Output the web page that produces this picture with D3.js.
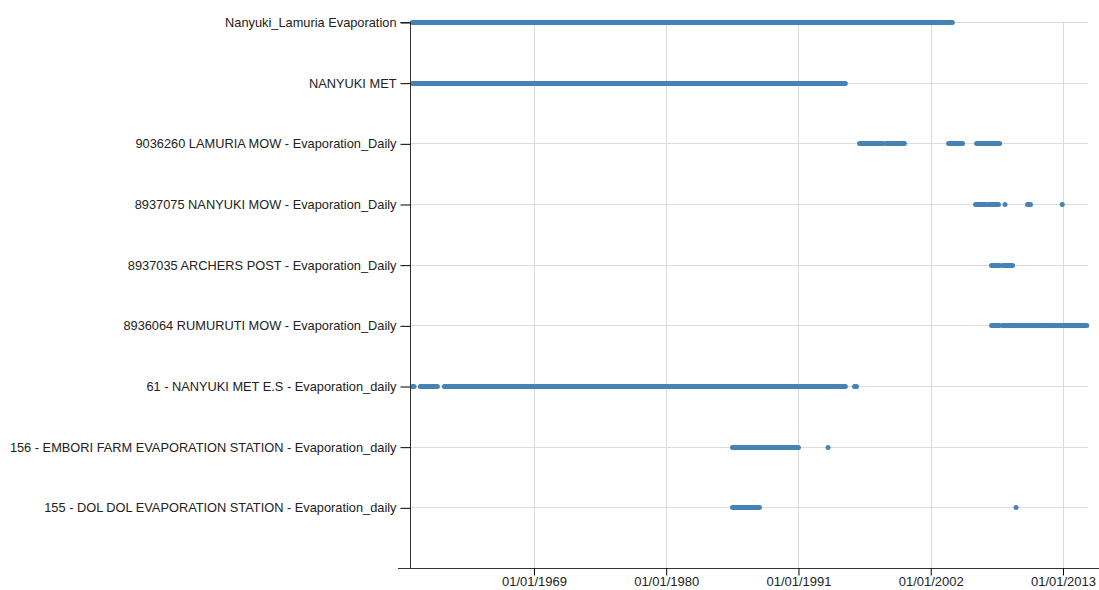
<!DOCTYPE html>
<html>
<head>
<meta charset="utf-8">
<script src="https://cdn.jsdelivr.net/npm/d3@7"></script>
<style>
  html, body { margin: 0; padding: 0; background: #fff; }
  svg { display: block; font-family: "Liberation Sans", Arial, sans-serif; }
</style>
</head>
<body>
<svg id="chart" width="1099" height="590"></svg>
<script>
// Evaporation stations, top to bottom
const stations = [
  "Nanyuki_Lamuria Evaporation",
  "NANYUKI MET",
  "9036260 LAMURIA MOW - Evaporation_Daily",
  "8937075 NANYUKI MOW - Evaporation_Daily",
  "8937035 ARCHERS POST - Evaporation_Daily",
  "8936064 RUMURUTI MOW - Evaporation_Daily",
  "61 - NANYUKI MET E.S - Evaporation_daily",
  "156 - EMBORI FARM EVAPORATION STATION - Evaporation_daily",
  "155 - DOL DOL EVAPORATION STATION - Evaporation_daily"
];

// Periods with records for each station, [first day, last day]
const periods = [
  [["1958-11-20", "2003-10-20"]],
  [["1958-11-20", "1994-11-25"]],
  [["1996-01-30", "1998-01-15"], ["1998-04-20", "1999-10-25"], ["2003-06-28", "2004-08-25"], ["2005-10-27", "2007-09-25"]],
  [["2005-09-25", "2006-08-01"], ["2006-10-20", "2007-08-20"], ["2008-03-08", "2008-03-08"], ["2010-01-20", "2010-04-20"], ["2012-12-10", "2012-12-10"]],
  [["2007-01-22", "2007-09-20"], ["2007-12-25", "2008-10-22"]],
  [["2007-01-22", "2007-09-20"], ["2007-12-25", "2009-03-01"], ["2009-05-01", "2010-05-01"], ["2010-07-01", "2012-06-01"], ["2012-08-01", "2014-12-25"]],
  [["1958-11-20", "1959-01-10"], ["1959-07-22", "1960-12-20"], ["1961-07-20", "1994-11-25"], ["1995-09-01", "1995-10-30"]],
  [["1985-07-08", "1990-12-31"], ["1993-06-18", "1993-06-18"]],
  [["1985-07-08", "1987-10-05"], ["2009-02-06", "2009-02-06"]]
];

// Time axis extent and labelled dates
const timeExtent = ["1958-09-10", "2015-01-31"];
const tickDates = ["1969-01-01", "1980-01-01", "1991-01-01", "2002-01-01", "2013-01-01"];

const parse = d3.utcParse("%Y-%m-%d");
const fmt = d3.utcFormat("%d/%m/%Y");

const svg = d3.select("#chart");
const plotLeft = 410, plotRight = 1088, plotTop = 22, plotBottom = 568;
const step = (plotBottom - plotTop) / stations.length;

const x = d3.scaleUtc()
  .domain(timeExtent.map(parse))
  .range([plotLeft, plotRight]);

const y = d3.scalePoint()
  .domain(stations)
  .range([plotTop, plotTop + step * (stations.length - 1)]);

// Grid
const grid = svg.append("g").attr("stroke", "#dcdcdc").attr("stroke-width", 1);
grid.selectAll("line.v")
  .data(tickDates.map(parse))
  .join("line")
  .attr("class", "v")
  .attr("x1", d => Math.round(x(d)) + 0.5)
  .attr("x2", d => Math.round(x(d)) + 0.5)
  .attr("y1", plotTop)
  .attr("y2", plotBottom);
grid.selectAll("line.h")
  .data(stations)
  .join("line")
  .attr("class", "h")
  .attr("x1", plotLeft)
  .attr("x2", plotRight)
  .attr("y1", d => Math.round(y(d)) + 0.5)
  .attr("y2", d => Math.round(y(d)) + 0.5);

// Record periods
const rows = svg.append("g")
  .selectAll("g")
  .data(stations.map((s, i) => ({ station: s, spans: periods[i] })))
  .join("g");
rows.selectAll("line")
  .data(d => d.spans.map(p => ({ station: d.station, from: parse(p[0]), to: parse(p[1]) })))
  .join("line")
  .attr("x1", d => x(d.from))
  .attr("x2", d => x(d.to))
  .attr("y1", d => Math.round(y(d.station)) + 0.5)
  .attr("y2", d => Math.round(y(d.station)) + 0.5)
  .attr("stroke", "#4682b4")
  .attr("stroke-width", 5)
  .attr("stroke-linecap", "round");

// Y axis
const yAxis = svg.append("g")
  .attr("transform", `translate(${plotLeft + 0.5},0.5)`)
  .call(d3.axisLeft(y).tickSize(10).tickPadding(4));
yAxis.select(".domain")
  .attr("d", `M-10,${plotTop}H0V${plotBottom}H-12`)
  .attr("stroke", "#333");
yAxis.selectAll("text")
  .attr("font-size", 12.8)
  .attr("font-family", "'Liberation Sans', Arial, sans-serif")
  .attr("fill", "#222");

// X axis
const xAxis = svg.append("g")
  .attr("transform", `translate(0,${plotBottom + 0.5})`)
  .call(d3.axisBottom(x).tickValues(tickDates.map(parse)).tickFormat(fmt).tickSize(7).tickPadding(1));
xAxis.select(".domain")
  .attr("d", `M${plotLeft - 12},0H1099`)
  .attr("stroke", "#333");
xAxis.selectAll("text")
  .attr("font-size", 13)
  .attr("font-family", "'Liberation Sans', Arial, sans-serif")
  .attr("fill", "#222");
</script>
</body>
</html>
